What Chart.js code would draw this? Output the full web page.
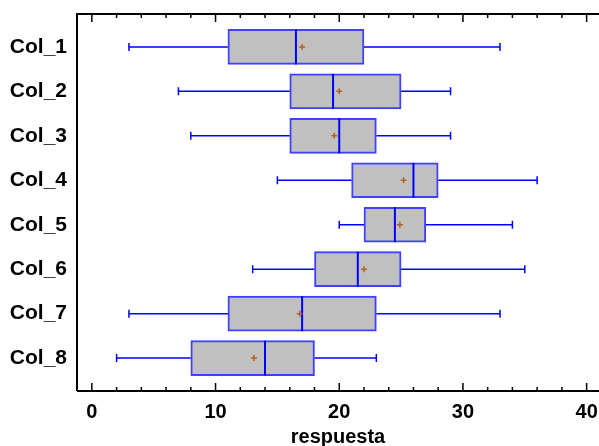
<!DOCTYPE html>
<html>
<head>
<meta charset="utf-8">
<script src="https://cdn.jsdelivr.net/npm/chart.js@4/dist/chart.umd.min.js"></script>
<style>
  html, body { margin: 0; padding: 0; background: #fff; }
  #wrap { width: 599px; height: 446px; }
</style>
</head>
<body>
<div id="wrap"><canvas id="grafico"></canvas></div>
<script>
// datos
const categorias = ["Col_1", "Col_2", "Col_3", "Col_4", "Col_5", "Col_6", "Col_7", "Col_8"];
const minimos  = [3, 7, 8, 15, 20, 13, 3, 2];
const q1       = [11, 16, 16, 21, 22, 18, 11, 8];
const medianas = [16.5, 19.5, 20, 26, 24.5, 21.5, 17, 14];
const medias   = [17, 20, 19.6, 25.2, 24.9, 22, 16.8, 13.1];
const q3       = [22, 25, 23, 28, 27, 25, 23, 18];
const maximos  = [33, 29, 29, 36, 34, 35, 33, 23];
const ticksX   = [0, 10, 20, 30, 40];

const AZUL = "#0000ff";
const FUENTE = "'Liberation Sans', Arial, sans-serif";

/* -------------------------------
   bigotes, mediana, media y ejes
   ------------------------------- */
const extrasCaja = {
    id: "extrasCaja",
    beforeDatasetsDraw(chart) {
        const { ctx, scales: { x, y } } = chart;
        ctx.save();
        ctx.strokeStyle = AZUL;
        ctx.lineWidth = 1.5;
        categorias.forEach((_, i) => {
            const yc = y.getPixelForValue(i);
            ctx.beginPath();
            ctx.moveTo(x.getPixelForValue(minimos[i]), yc);
            ctx.lineTo(x.getPixelForValue(q1[i]), yc);
            ctx.moveTo(x.getPixelForValue(q3[i]), yc);
            ctx.lineTo(x.getPixelForValue(maximos[i]), yc);
            // topes
            ctx.moveTo(x.getPixelForValue(minimos[i]), yc - 4);
            ctx.lineTo(x.getPixelForValue(minimos[i]), yc + 4);
            ctx.moveTo(x.getPixelForValue(maximos[i]), yc - 4);
            ctx.lineTo(x.getPixelForValue(maximos[i]), yc + 4);
            ctx.stroke();
        });
        ctx.restore();
    },
    afterDatasetsDraw(chart) {
        const { ctx, scales: { x, y }, chartArea } = chart;
        ctx.save();
        categorias.forEach((_, i) => {
            const yc = y.getPixelForValue(i);
            const xm = x.getPixelForValue(medianas[i]);
            ctx.strokeStyle = AZUL;
            ctx.lineWidth = 2;
            ctx.beginPath();
            ctx.moveTo(xm, yc - 17.5);
            ctx.lineTo(xm, yc + 17.5);
            ctx.stroke();

            const xa = x.getPixelForValue(medias[i]);
            ctx.strokeStyle = "#b5601f";
            ctx.lineWidth = 1.5;
            ctx.beginPath();
            ctx.moveTo(xa - 3, yc);
            ctx.lineTo(xa + 3, yc);
            ctx.moveTo(xa, yc - 3);
            ctx.lineTo(xa, yc + 3);
            ctx.stroke();
        });

        // marco: izquierda, arriba, abajo
        ctx.strokeStyle = "#000";
        ctx.lineWidth = 2;
        ctx.beginPath();
        ctx.moveTo(chartArea.left, chartArea.bottom);
        ctx.lineTo(chartArea.left, chartArea.top);
        ctx.lineTo(chartArea.right, chartArea.top);
        ctx.moveTo(chartArea.left, chartArea.bottom);
        ctx.lineTo(chartArea.right, chartArea.bottom);
        ctx.stroke();

        // marcas hacia dentro
        ctx.lineWidth = 1.5;
        ctx.beginPath();
        x.ticks.forEach(t => {
            const px = x.getPixelForValue(t.value);
            const largo = t.value % 10 === 0 ? 8 : 4;
            ctx.moveTo(px, chartArea.bottom);
            ctx.lineTo(px, chartArea.bottom - largo);
            ctx.moveTo(px, chartArea.top);
            ctx.lineTo(px, chartArea.top + largo);
        });
        ctx.stroke();
        ctx.restore();
    }
};

new Chart(document.getElementById("grafico"), {
    type: "bar",
    data: {
        labels: categorias,
        datasets: [{
            data: categorias.map((_, i) => ({ y: i, x: [q1[i], q3[i]] })),
            backgroundColor: "#c0c0c0",
            borderColor: "#4040ff",
            borderWidth: 2,
            borderSkipped: false,
            barThickness: 35
        }]
    },
    options: {
        indexAxis: "y",
        responsive: true,
        maintainAspectRatio: false,
        animation: false,
        layout: { padding: { top: 14, right: 0, left: 0, bottom: 0 } },
        plugins: {
            legend: { display: false },
            tooltip: { enabled: false }
        },
        scales: {
            x: {
                type: "linear",
                min: -1.2,
                max: 41,
                grid: { display: false, drawTicks: false },
                border: { display: false },
                ticks: {
                    stepSize: 2,
                    includeBounds: false,
                    autoSkip: false,
                    maxRotation: 0,
                    padding: 9,
                    color: "#000",
                    font: { family: FUENTE, size: 20, weight: "bold" },
                    callback: v => ticksX.includes(v) ? String(v) : ""
                },
                title: {
                    display: true,
                    text: "respuesta",
                    color: "#000",
                    padding: { top: 0, bottom: -3 },
                    font: { family: FUENTE, size: 20, weight: "bold" }
                },
                afterFit: s => {
                    s.height = 55;
                    s.paddingLeft = 0;
                    s.paddingRight = 0;
                }
            },
            y: {
                type: "linear",
                reverse: true,
                offset: false,
                min: -0.74,
                max: 7.74,
                grid: { display: false, drawTicks: false },
                border: { display: false },
                afterBuildTicks: s => { s.ticks = categorias.map((_, i) => ({ value: i })); },
                ticks: {
                    padding: 10,
                    autoSkip: false,
                    color: "#000",
                    font: { family: FUENTE, size: 21, weight: "bold" },
                    callback: v => categorias[v] ?? ""
                },
                afterFit: s => {
                    s.width = 77;
                    s.paddingTop = 0;
                    s.paddingBottom = 0;
                }
            }
        }
    },
    plugins: [extrasCaja]
});
</script>
</body>
</html>
